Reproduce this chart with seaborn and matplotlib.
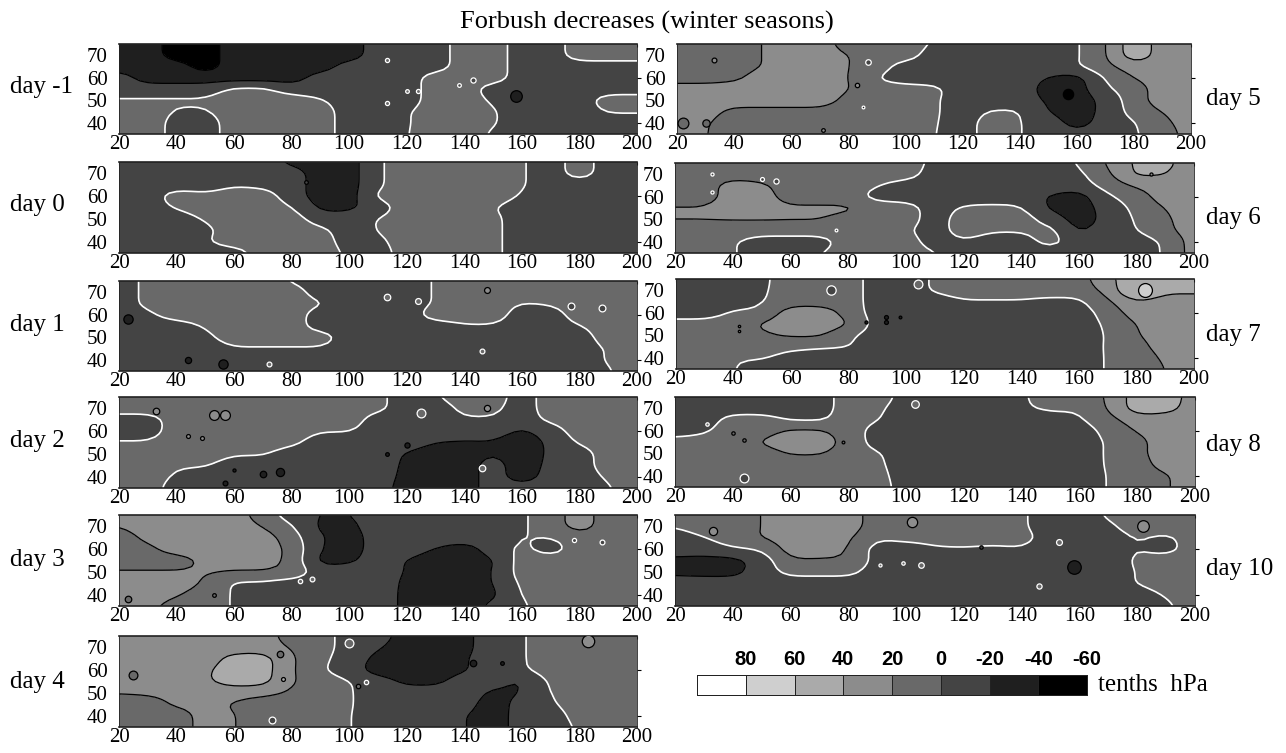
import matplotlib
matplotlib.use("Agg")
import matplotlib.pyplot as plt
import numpy as np
import seaborn as sns
from matplotlib.colors import BoundaryNorm, ListedColormap

# grid the maps were read on (degrees lon / lat), values in tenths of hPa
LONS = [20, 30, 40, 50, 60, 70, 80, 90, 100, 110, 120, 130, 140, 150, 160, 170, 180, 190, 200]
LATS = [75, 70, 65, 60, 55, 50, 45, 40, 35]

LEVELS = [-60, -40, -20, 0, 20, 40, 60, 80, 100]
GREYS = ["#000000", "#1f1f1f", "#444444", "#696969", "#8c8c8c", "#aaaaaa", "#cfcfcf", "#ffffff"]
LEGEND_VALUES = [90, 70, 50, 30, 10, -10, -30, -50]
LEGEND_LABELS = ["80", "60", "40", "20", "0", "-20", "-40", "-60"]

DAY_M1 = [
    [-30, -30, -50, -50, -30, -30, -30, -30, -30, -10, -10, -10, 10, 10, -10, -10, 10, 10, 10],
    [-30, -30, -50, -50, -30, -30, -30, -30, -30, -10, -10, -10, 10, 10, -10, -10, 10, 10, 10],
    [-30, -30, -30, -50, -30, -30, -30, -30, -10, -10, -10, -10, 10, 10, -10, -10, -10, -10, -10],
    [-10, -30, -30, -30, -30, -30, -30, -10, -10, -10, -10, 10, 10, 10, -10, -10, -10, -10, -10],
    [-10, -10, -10, -10, 5, 5, -10, -10, -10, -10, -10, 10, 10, -10, -10, -10, -10, -10, -10],
    [2, 2, 3, 3, 10, 10, 10, 2, -10, -10, -10, 10, 10, -3, -10, -10, -10, 10, 10],
    [10, 10, -2, -2, 10, 10, 10, 10, -10, -10, -2, 10, 10, 2, -10, -10, -10, 2, 2],
    [10, 10, -7, -10, 10, 10, 10, 10, -10, -10, -2, 10, 10, 2, -10, -10, -10, -10, -10],
    [10, 10, -7, -10, 10, 10, 10, 10, -10, -10, -1, 10, 10, -3, -10, -10, -10, -10, -10],
]
DAY_0 = [
    [-10, -10, -10, -10, -10, -10, -25, -30, -30, -2, 10, 10, 10, 10, 2, -10, 10, -10, -10],
    [-10, -10, -10, -10, -10, -10, -10, -30, -30, -2, 10, 10, 10, 10, 2, -10, 10, -10, -10],
    [-10, -10, -10, -10, -2, -5, -10, -30, -30, -2, 10, 10, 10, 10, 2, -10, -10, -10, -10],
    [-10, -10, 10, 5, 10, 10, -10, -30, -30, 5, 10, 10, 10, 10, -2, -10, -10, -10, -10],
    [-10, -10, 2, 10, 10, 10, 2, -25, -25, -10, 10, 10, 10, 1, -10, -10, -10, -10, -10],
    [-10, -10, -10, 2, 10, 10, 10, -10, -10, 1, 10, 10, 10, 5, -10, -10, -10, -10, -10],
    [-10, -10, -10, -5, 10, 10, 10, 5, -10, 1, 10, 10, 10, 5, -10, -10, -10, -10, -10],
    [-10, -10, -10, -2, 10, 10, 10, 10, -10, -5, 10, 10, 10, 5, -10, -10, -10, -10, -10],
    [-10, -10, -10, -10, -10, 10, 10, 10, -4, -10, 10, 10, 10, 5, -10, -10, -10, -10, -10],
]
DAY_1 = [
    [-10, 5, 10, 10, 10, 10, -2, -10, -10, -10, -10, 2, 10, 10, 10, 10, 10, 10, 10],
    [-10, 5, 10, 10, 10, 10, 10, -10, -10, -10, -10, 2, 10, 10, 10, 10, 10, 10, 10],
    [-10, 5, 10, 10, 10, 10, 10, 2, -10, -10, -10, 2, 10, 10, -1, 2, 10, 10, 10],
    [-10, -4, 10, 10, 10, 10, 10, -10, -10, -10, -10, 10, 10, 10, -10, -10, 10, 10, 10],
    [-10, -10, -10, 2, 10, 10, 10, -10, -10, -10, -10, -10, -2, -2, -10, -10, -1, 10, 10],
    [-10, -10, -10, -5, 10, 10, 10, 10, -10, -10, -10, -10, -10, -10, -10, -10, -10, 10, 10],
    [-10, -10, -10, -10, -2, -2, -2, -2, -10, -10, -10, -10, -10, -10, -10, -10, -10, 2, 10],
    [-10, -10, -10, -10, -10, -10, -10, -10, -10, -10, -10, -10, -10, -10, -10, -10, -10, 2, 10],
    [-10, -10, -10, -10, -10, -10, -10, -10, -10, -10, -10, -10, -10, -10, -10, -10, -10, -2, 10],
]
DAY_2 = [
    [10, 10, 10, 10, 10, 10, 10, 10, 10, 5, -10, -2, 10, 10, -10, 10, 10, 10, 10],
    [10, 10, 10, 10, 10, 10, 10, 10, 10, 5, -10, -10, 5, 5, -10, 10, 10, 10, 10],
    [-10, -10, 10, 10, 10, 10, 10, 10, 10, -10, -10, -10, -2, -2, -10, 5, 10, 10, 10],
    [-10, -10, 10, 10, 10, 10, 10, 1, 1, -10, -10, -10, -10, -10, -24, -10, 10, 10, 10],
    [2, 2, 10, 10, 10, 10, 5, -10, -10, -10, -10, -20, -22, -22, -32, -16, 3, 10, 10],
    [10, 10, 10, 10, 2, 2, -10, -10, -10, -10, -22, -30, -30, -20, -32, -16, -10, 10, 10],
    [10, 10, 2, 2, -10, -10, -10, -10, -10, -10, -24, -30, -30, -10, -32, -14, -10, 10, 10],
    [10, 10, -3, -10, -10, -10, -10, -10, -10, -10, -26, -30, -30, -10, -32, -10, -10, 3, 10],
    [10, 10, -10, -10, -10, -10, -10, -10, -10, -10, -30, -30, -30, -10, -10, -10, -10, -2, 10],
]
DAY_3 = [
    [30, 30, 30, 30, 30, 10, -10, -21, -21, -10, -10, -10, -10, -10, -3, 10, 30, 10, 10],
    [20, 30, 30, 30, 30, 20, 2, -25, -25, -10, -10, -10, -10, -10, -3, 10, 30, 10, 10],
    [10, 25, 30, 30, 30, 30, 10, -19, -30, -10, -10, -10, -10, -10, 1, -1, 10, 10, 10],
    [10, 15, 30, 30, 30, 30, 16, -21, -30, -10, -10, -21, -30, -10, 5, -10, 10, 10, 10],
    [10, 10, 10, 25, 30, 30, 15, -27, -24, -10, -21, -30, -30, -23, 10, 10, 10, 10, 10],
    [22, 22, 22, 22, 19, 19, 15, -10, -10, -12, -21, -30, -30, -21, 10, 10, 10, 10, 10],
    [30, 30, 30, 18, -4, -4, -10, -10, -10, -10, -24, -30, -30, -21, 5, 10, 10, 10, 10],
    [25, 30, 22, 10, -2, -10, -10, -10, -10, -10, -25, -30, -30, -25, 2, 10, 10, 10, 10],
    [28, 25, 12, 10, -2, -10, -10, -10, -10, -10, -25, -30, -30, -15, -3, 10, 10, 10, 10],
]
DAY_4 = [
    [30, 30, 30, 30, 30, 30, 10, 10, -10, -10, -30, -30, -25, -10, -2, 10, 10, 10, 10],
    [30, 30, 30, 30, 30, 30, 18, 10, -10, -18, -30, -30, -25, -10, -2, 10, 10, 10, 10],
    [30, 30, 30, 30, 48, 50, 22, 5, -10, -25, -30, -30, -22, -10, -2, 10, 10, 10, 10],
    [30, 30, 30, 37, 50, 50, 22, 2, -10, -30, -30, -30, -22, -10, -3, 10, 10, 10, 10],
    [30, 30, 30, 37, 50, 48, 21, 10, 1, -10, -25, -25, -10, -13, -24, 5, 10, 10, 10],
    [21, 23, 26, 27, 27, 25, 17, 10, 2, -10, -10, -10, -10, -24, -21, 1, 10, 10, 10],
    [10, 10, 24, 26, 18, 10, 10, 10, 2, -10, -10, -10, -12, -30, -12, -3, 10, 10, 10],
    [10, 10, 10, 28, 21, 10, 10, 10, 1, -10, -10, -10, -19, -30, -11, -10, 8, 10, 10],
    [10, 10, 10, 28, 21, 10, 10, 10, 1, -10, -10, -10, -19, -30, -11, -10, 3, 10, 10],
]
DAY_5 = [
    [10, 10, 10, 20.5, 30, 30, 10, 10, 10, -2, -10, -10, -10, -10, -3, 18, 55, 30, 30],
    [10, 10, 10, 20.5, 30, 30, 20.5, 10, 10, -10, -10, -10, -10, -10, -3, 18, 55, 30, 30],
    [10, 10, 10, 20.5, 30, 30, 20.5, 10, -10, -10, -10, -10, -10, -10, -2, 15, 30, 30, 30],
    [10, 10, 15, 30, 30, 30, 21, -1, -10, -10, -10, -10, -10, -21, -28, 2, 21, 30, 30],
    [30, 30, 30, 30, 30, 30, 21, 8, 8, 5, -10, -10, -10, -28, -30, -3, 10, 30, 30],
    [30, 30, 30, 30, 30, 30, 14, 10, 10, 3, -10, -10, -10, -23, -30, -15, 11, 30, 30],
    [30, 28, 14, 14, 14, 14, 10, 10, 10, 3, -10, 2, 2, -21, -30, -15, 8, 21, 30],
    [30, 22, 10, 10, 10, 10, 10, 10, 10, 2, -10, 10, 1, -10, -28, -12, -2, 15, 30],
    [30, 21, 10, 10, 10, 10, 10, 10, 10, 1, -10, 10, 1, -10, -15, -10, -2, 8, 30],
]
DAY_6 = [
    [10, 10, 10, 10, 10, 10, 10, 10, 10, -5, -10, -10, -10, -10, 1, 22, 45, 45, 30],
    [10, 10, 10, 10, 10, 10, 10, 10, 10, -10, -10, -10, -10, -10, -5, 16, 45, 41, 30],
    [10, 10, 30, 24, 10, 10, 10, 1, -10, -10, -10, -10, -10, -10, -10, 8, 23, 30, 30],
    [10, 10, 30, 30, 10, 10, 10, -8, -10, -10, -10, -10, -10, -22, -30, -3, 10, 30, 30],
    [22, 22, 30, 30, 24, 24, 24, 12, 10, -10, 3, 5, 3, -24, -30, -12, 5, 21, 30],
    [21, 21, 21, 21, 21, 21, 13, 10, 10, -10, 10, 10, 10, -8, -30, -14, 2, 17, 30],
    [10, 10, 10, 10, 10, 10, 10, 10, 3, -10, 10, 2, 2, 8, -24, -10, -1, 15, 30],
    [10, 10, 2, -10, -10, -10, 10, 10, 10, -10, -2, -10, -10, 8, -10, -10, -10, 2, 30],
    [10, 10, 2, -10, -10, -1, 10, 10, 10, 1, -10, -10, -10, -10, -10, -10, -10, 1, 30],
]
DAY_7 = [
    [-10, -10, -10, -4, 10, 10, 10, -10, -10, 3, 10, 10, 10, 10, 10, 36, 52, 50, 50],
    [-10, -10, -10, -3, 10, 10, 10, -10, -10, 3, 10, 10, 10, 10, 10, 25, 70, 45, 45],
    [-10, -10, -10, -1, 10, 10, 10, -10, -10, -10, -2, -2, -2, -6, -5, 17, 38, 30, 30],
    [-10, -10, 3, 3, 33, 33, 12, -10, -10, -10, -10, -10, -10, -10, -10, 8, 30, 30, 30],
    [8, 8, 10, 23, 33, 33, 22, -10, -10, -10, -10, -10, -10, -10, -10, 3, 21, 30, 30],
    [10, 10, 10, 17, 23, 23, 3, -10, -10, -10, -10, -10, -10, -10, -10, 1, 19, 30, 30],
    [10, 10, 10, 10, 5, 2, 1, -10, -10, -10, -10, -10, -10, -10, -10, 2, 12, 30, 30],
    [10, 10, 1, 2, -8, -10, -10, -10, -10, -10, -10, -10, -10, -10, -10, 2, 8, 24, 30],
    [10, 10, 1, -10, -10, -10, -10, -10, -10, -10, -10, -10, -10, -10, -10, 2, 8, 20.5, 30],
]
DAY_8 = [
    [-10, -10, -10, -10, -10, -10, 10, 10, -8, -10, -10, -10, -3, 10, 10, 21, 52, 52, 30],
    [-10, -10, -10, -10, -10, -10, 10, 4, -10, -10, -10, -10, -3, 4, 2, 21, 52, 48, 30],
    [-10, -10, 8, 8, -3, -4, 10, 1, -10, -10, -10, -10, -10, -10, -3, 14, 30, 30, 30],
    [-10, -3, 10, 12, 24, 24, 10, -8, -10, -10, -10, -10, -10, -10, -10, 6, 22, 30, 30],
    [8, 8, 10, 22, 30, 30, 14, -10, -10, -10, -10, -10, -10, -10, -10, 2, 14, 30, 30],
    [10, 10, 10, 12, 22, 22, 12, 2, -10, -10, -10, -10, -10, -10, -10, 2, 16, 28, 30],
    [10, 10, 10, 10, 10, 10, 10, 4, -10, -10, -10, -10, -10, -10, -10, 2, 12, 28, 30],
    [10, 10, 10, 10, 10, 10, 10, 7, -10, -10, -10, -10, -10, -10, -10, 1, 10, 18, 30],
    [10, 10, 10, 10, 10, 10, 10, 10, -10, -10, -10, -10, -10, -10, -10, 1, 10, 18, 30],
]
DAY_10 = [
    [10, 10, 10, 20.5, 30, 30, 30, 10, 10, 10, 10, 10, 3, -10, -10, 3, 10, 10, 10],
    [1, 10, 10, 20.5, 30, 30, 30, 10, 10, 10, 10, 10, 3, -10, -10, -4, 10, 10, 10],
    [-10, -1, 10, 21, 30, 30, 24, 2, 6, 6, 6, 6, 6, -7, -10, -10, 2, -5, 10],
    [-10, -10, -2, 1, 30, 30, 20.5, -10, -10, -2, -1, -3, -1, -10, -10, -10, 1, -8, 10],
    [-25, -27, -27, -12, 18, 18, 18, -8, -10, -10, -10, -10, -10, -10, -10, -10, 3, 10, 10],
    [-25, -27, -27, -10, 6, 6, 6, -10, -10, -10, -10, -10, -10, -10, -10, -10, 1, 10, 10],
    [-10, -10, -10, -10, -10, -10, -10, -10, -10, -10, -10, -10, -10, -10, -10, -10, 1, 10, 10],
    [-10, -10, -10, -10, -10, -10, -10, -10, -10, -10, -10, -10, -10, -10, -10, -10, -10, 2, 10],
    [-10, -10, -10, -10, -10, -10, -10, -10, -10, -10, -10, -10, -10, -10, -10, -10, -10, -4, 10],
]

# small closed contours: lon, lat, value, marker area
SPOTS_M1 = [(158, 52, -30, 70), (113, 68, 10, 9), (120, 54, 10, 7), (124, 54, 10, 9), (113, 49, 10, 9), (138, 57, -10, 7), (143, 59, -10, 14)]
SPOTS_0 = [(85, 66, -10, 7)]
SPOTS_1 = [(113, 68, 10, 22), (124, 66, 10, 18), (148, 71, 30, 18), (177, 64, -10, 24), (188, 63, -10, 24),
           (146, 44, 10, 12), (72, 38, 10, 12), (44, 40, -30, 20), (56, 38, -30, 45), (23, 58, -30, 45)]
SPOTS_2 = [(33, 69, 30, 22), (53, 67, 30, 50), (57, 67, 30, 50), (44, 58, 30, 8), (49, 57, 30, 8), (113, 50, -30, 7),
           (120, 54, -30, 14), (146, 44, 10, 22), (148, 70, 30, 20), (125, 68, 10, 40), (60, 43, -30, 5),
           (70, 41, -30, 22), (76, 42, -30, 35), (57, 37, -30, 12)]
SPOTS_3 = [(23, 38, 10, 22), (53, 40, 10, 7), (83, 46, 10, 10), (87, 47, 10, 12), (178, 64, -10, 9), (188, 63, -10, 12)]
SPOTS_4 = [(25, 58, 10, 40), (76, 67, 10, 22), (100, 72, 10, 40), (73, 38, -10, 24), (106, 55, 10, 10), (103, 53, 10, 10),
           (143, 63, -30, 22), (153, 63, -30, 7), (77, 56, 50, 8), (183, 73, 30, 80)]
SPOTS_5 = [(33, 68, 30, 12), (87, 67, -10, 16), (83, 57, 30, 10), (85, 47, -30, 4), (71, 37, 30, 7), (22, 40, 10, 60),
           (30, 40, 10, 28), (157, 53, -50, 55)]
SPOTS_6 = [(33, 70, -10, 5), (50, 68, -10, 8), (55, 67, -10, 14), (33, 62, -10, 5), (76, 45, -10, 4), (185, 70, 30, 5)]
SPOTS_7 = [(74, 70, -10, 45), (104, 73, 10, 40), (86, 56, -30, 5), (93, 58, -30, 8), (93, 56, -30, 8), (98, 58, -30, 4),
           (42, 54, 10, 3), (42, 52, 10, 3), (183, 70, 70, 100)]
SPOTS_8 = [(44, 39, -10, 40), (103, 72, 10, 30), (31, 63, 10, 6), (40, 59, 10, 6), (44, 56, 10, 6), (78, 55, 10, 4)]
SPOTS_10 = [(33, 68, 30, 35), (102, 72, 30, 55), (182, 70, 30, 70), (158, 52, -30, 95), (153, 63, 10, 18), (146, 44, 10, 14),
            (126, 61, -10, 6), (91, 53, 10, 5), (99, 54, 10, 6), (105, 53, 10, 16)]

# name, data, spots, axes box in pixels (left, right, top, bottom), label x, label y
PANELS = [
    ("day -1", DAY_M1, SPOTS_M1, (119, 637, 44, 134), 10, 87),
    ("day 0", DAY_0, SPOTS_0, (119, 637, 162, 253), 10, 205),
    ("day 1", DAY_1, SPOTS_1, (119, 637, 281, 371), 10, 325),
    ("day 2", DAY_2, SPOTS_2, (119, 637, 397, 488), 10, 441),
    ("day 3", DAY_3, SPOTS_3, (119, 637, 515, 606), 10, 560),
    ("day 4", DAY_4, SPOTS_4, (119, 637, 636, 727), 10, 682),
    ("day 5", DAY_5, SPOTS_5, (677, 1191, 44, 134), 1206, 99),
    ("day 6", DAY_6, SPOTS_6, (675, 1194, 163, 253), 1206, 218),
    ("day 7", DAY_7, SPOTS_7, (676, 1194, 279, 369), 1206, 335),
    ("day 8", DAY_8, SPOTS_8, (675, 1195, 397, 487), 1206, 445),
    ("day 10", DAY_10, SPOTS_10, (675, 1195, 515, 606), 1206, 569),
]

W, H = 1286, 753
FINE = 4  # contouring is done on a finer mesh so the outlines come out rounded


def px_axes(fig, left, right, top, bottom):
    return fig.add_axes([left / W, 1 - bottom / H, (right - left) / W, (bottom - top) / H])


def soften(z):
    # linear refine then a small blur, only rounds the corners of the outlines
    lons = np.linspace(LONS[0], LONS[-1], (len(LONS) - 1) * FINE + 1)
    lats = np.linspace(LATS[0], LATS[-1], (len(LATS) - 1) * FINE + 1)
    rows = np.array([np.interp(lons, LONS, row) for row in z])
    fine = np.array([np.interp(-lats, [-v for v in LATS], col) for col in rows.T]).T
    kernel = np.array([1, 2, 3, 2, 1]) / 9
    for axis in (0, 1):
        pad = np.pad(fine, [(2, 2) if a == axis else (0, 0) for a in (0, 1)], mode="edge")
        fine = np.apply_along_axis(lambda v: np.convolve(v, kernel, mode="valid"), axis, pad)
    return lons, lats, fine


def spot_edge(z, lon, lat, val):
    # white outline only where the spot crosses zero against what is around it
    around = z[LATS.index(min(LATS, key=lambda v: abs(v - lat))), LONS.index(min(LONS, key=lambda v: abs(v - lon)))]
    return "white" if around * val < 0 else "black"


def draw_panel(fig, cmap, norm, panel):
    name, data, spots, box, lx, ly = panel
    ax = px_axes(fig, *box)
    grid = np.array(data, dtype=float)
    lons, lats, z = soften(grid)
    ax.contourf(lons, lats, z, levels=LEVELS, cmap=cmap, norm=norm)
    ax.contour(lons, lats, z, levels=[v for v in LEVELS if v != 0], colors="black", linewidths=0.9, linestyles="solid")
    ax.contour(lons, lats, z, levels=[0], colors="white", linewidths=1.2, linestyles="solid")
    for lon, lat, val, size in spots:
        ax.scatter(lon, lat, s=size, c=[val], cmap=cmap, norm=norm,
                   edgecolors=spot_edge(grid, lon, lat, val), linewidths=0.9, zorder=3)
    ax.set_xlim(20, 200)
    ax.set_ylim(35, 75)
    ax.set_xticks(range(20, 201, 20))
    ax.set_yticks([40, 50, 60, 70])
    ax.tick_params(axis="x", top=True, bottom=False, direction="in", length=2, pad=1, labelsize=15, width=0.8, colors="black")
    ax.tick_params(axis="y", left=False, pad=2, labelsize=15, colors="black")
    ax2 = ax.secondary_yaxis("right")
    ax2.set_yticks([40, 60])
    ax2.set_yticklabels([])
    ax2.tick_params(length=3, width=0.8, colors="black")
    ax2.spines["right"].set_visible(False)
    for side, spine in ax.spines.items():
        spine.set_visible(True)
        spine.set_color("#222222")
        spine.set_linewidth(1.2 if side in ("top", "bottom") else 0.6)
    fig.text(lx / W, 1 - ly / H, name, fontsize=18, ha="left", va="center", color="black")


def main():
    sns.set_theme(style="ticks")
    plt.rcParams["font.family"] = ["Liberation Serif", "DejaVu Serif"]

    cmap = ListedColormap(sns.color_palette(GREYS))
    norm = BoundaryNorm(LEVELS, cmap.N)

    fig = plt.figure(figsize=(W / 100, H / 100), dpi=100)
    for panel in PANELS:
        draw_panel(fig, cmap, norm, panel)

    fig.text(647 / W, 1 - 22 / H, "Forbush decreases (winter seasons)", fontsize=19, ha="center", va="center", color="black")

    # legend strip, each label sits on the right edge of its box
    lax = px_axes(fig, 697, 1087, 675, 695)
    sns.heatmap(np.array([LEGEND_VALUES]), ax=lax, cmap=cmap, norm=norm, cbar=False,
                linewidths=0.7, linecolor="#222222", clip_on=False)
    lax.set_yticks([])
    lax.xaxis.tick_top()
    lax.set_xticks(np.arange(1, 9))
    lax.set_xticklabels(LEGEND_LABELS, rotation=0, family="Liberation Sans", weight="bold", fontsize=14.5, color="black")
    lax.tick_params(axis="x", length=0, pad=4)
    fig.text(1098 / W, 1 - 685 / H, "tenths  hPa", fontsize=18, ha="left", va="center", color="black")

    fig.savefig("out.png", dpi=100)


if __name__ == "__main__":
    main()
